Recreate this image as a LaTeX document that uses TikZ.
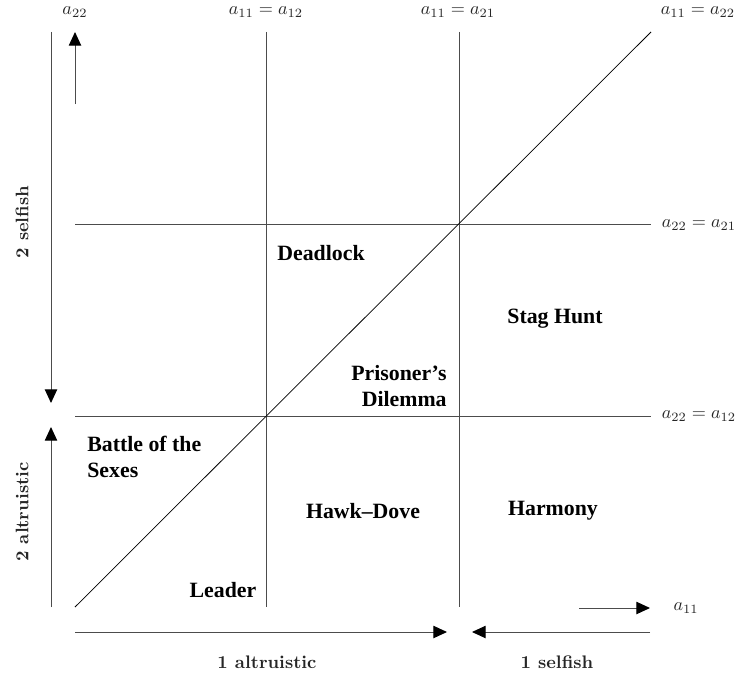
\documentclass[tikz,border=0pt]{standalone}
\usepackage{fontspec}
\newfontfamily\gamefont[Ligatures=TeX]{Liberation Serif}
\usepackage{tikz}
\usetikzlibrary{arrows.meta, positioning}

\begin{document}
\begin{tikzpicture}[x=0.55pt, y=-0.55pt,
    >={Triangle[length=7.5pt, width=6.8pt, color=black]},
    grid/.style={draw=black!70, line width=0.55pt},
    diag/.style={draw=black, line width=0.4pt},
    dir/.style={draw=black!70, line width=0.55pt, ->},
    game/.style={font=\gamefont\large\bfseries, inner sep=0pt},
    bound/.style={font=\normalsize, text=black!85, inner sep=0pt},
    side/.style={font=\bfseries, text=black!85, inner sep=0pt}]

\useasboundingbox (0,0) rectangle (735,677);

% grid corners and crossings
\coordinate (sw) at (75,607);
\coordinate (ne) at (651,32);
\coordinate (v1t) at (266,32);  \coordinate (v1b) at (266,607);
\coordinate (v2t) at (459,32);  \coordinate (v2b) at (459,607);
\coordinate (h1l) at (75,224);  \coordinate (h1r) at (651,224);
\coordinate (h2l) at (75,416);  \coordinate (h2r) at (651,416);

% boundary labels
\node[bound] (b22)   at (75,12)   {$a_{22}$};
\node[bound] (b1112) at (266,12)  {$a_{11} = a_{12}$};
\node[bound] (b1121) at (458,12)  {$a_{11} = a_{21}$};
\node[bound] (b1122) at (698,12)  {$a_{11} = a_{22}$};
\node[bound] (b2221) at (699,225) {$a_{22} = a_{21}$};
\node[bound] (b2212) at (699,416) {$a_{22} = a_{12}$};
\node[bound] (b11)   at (686,608) {$a_{11}$};

\draw[grid] (v1t) -- (v1b);
\draw[grid] (v2t) -- (v2b);
\draw[grid] (h1l) -- (h1r);
\draw[grid] (h2l) -- (h2r);
\draw[diag] (sw) -- (ne);

% game regions
\node[game] (deadlock) at (321,253) {Deadlock};
\node[game] (stag) at (555,319) {Stag Hunt};
\node[game, anchor=east, align=right] (pd) at (447,386) {Prisoner’s\\Dilemma};
\node[game, anchor=west, align=left] (bos) at (87,457) {Battle of the\\Sexes};
\node[game] (hawk) at (363,511) {Hawk–Dove};
\node[game] (harmony) at (553,511) {Harmony};
\node[game] (leader) at (223,590) {Leader};

% axis directions
\coordinate (a22s) at (75,104);  \coordinate (a22e) at (75,32);
\coordinate (a11s) at (579,608); \coordinate (a11e) at (650,608);
\coordinate (p2st) at (51,32);   \coordinate (p2sb) at (51,403);
\coordinate (p2ab) at (51,607);  \coordinate (p2at) at (51,427);
\coordinate (p1al) at (75,632);  \coordinate (p1ar) at (447,632);
\coordinate (p1sr) at (650,632); \coordinate (p1sl) at (472,632);

\draw[dir] (a22s) -- (a22e);
\draw[dir] (a11s) -- (a11e);
\draw[dir] (p2st) -- (p2sb);
\draw[dir] (p2ab) -- (p2at);
\draw[dir] (p1al) -- (p1ar);
\draw[dir] (p1sr) -- (p1sl);

\node[side, rotate=90] (sel2) at (22,222) {2 selfish};
\node[side, rotate=90] (alt2) at (22,512) {2 altruistic};
\node[side] (alt1) at (267,662) {1 altruistic};
\node[side] (sel1) at (557,662) {1 selfish};
\end{tikzpicture}
\end{document}
